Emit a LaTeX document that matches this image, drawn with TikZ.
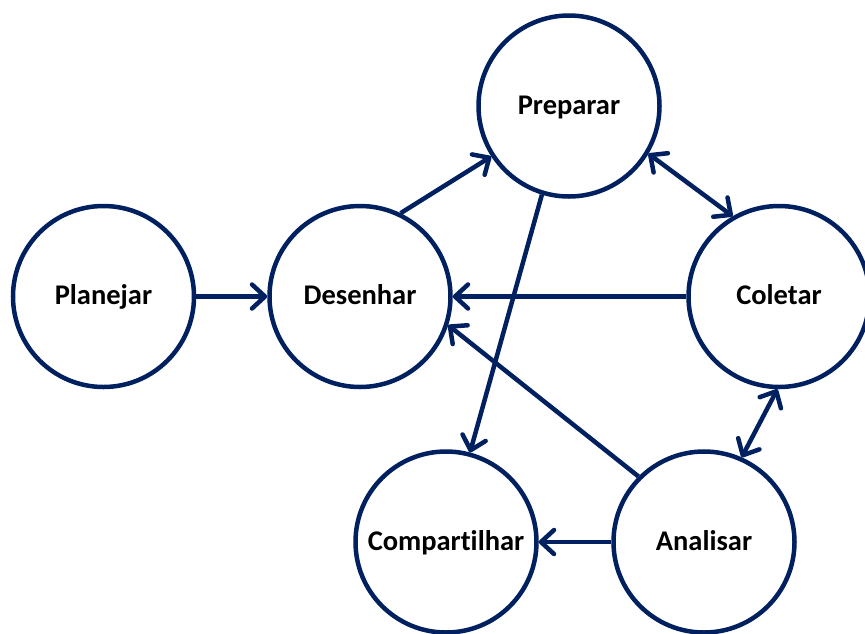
\documentclass[tikz,border=0pt]{standalone}
\usepackage{fontspec}
\setmainfont{Carlito}[Ligatures={NoCommon}]
\usetikzlibrary{arrows.meta}
\definecolor{navy}{RGB}{0,32,96}
\tikzset{
  stage/.style={circle, draw=navy, line width=4.5pt, minimum size=181pt, inner sep=0pt,
    fill=white, font=\bfseries\fontsize{28.5}{31}\selectfont, text height=22pt, text depth=6pt},
  barb/.tip={Straight Barb[length=13pt,width=24pt,line cap=round,line join=round]},
  flow/.style={draw=navy, line width=4.5pt, -barb},
  both/.style={draw=navy, line width=4.5pt, barb-barb}
}
\begin{document}
\begin{tikzpicture}[x=1pt,y=-1pt]
\useasboundingbox (0,0) rectangle (865,633);
\clip (0,0) rectangle (865,633);
\node[stage] (plan) at (103.5,296.5) {Planejar};
\node[stage] (des) at (360,296.5) {Desenhar};
\node[stage] (prep) at (569,106) {Preparar};
\node[stage] (col) at (779,296.5) {Coletar};
\node[stage] (comp) at (446,542) {Compartilhar};
\node[stage] (ana) at (704,542) {Analisar};
\draw[flow] (plan) -- (des);
\draw[flow] (des.64) -- (prep.213);
\draw[both] (prep.329) -- (col.120);
\draw[flow] (prep.253.5) -- (comp.75.5);
\draw[flow] (col) -- (des);
\draw[flow] (ana.135) -- (des.-18);
\draw[both] (col.269) -- (ana.66.5);
\draw[flow] (ana) -- (comp);
\end{tikzpicture}
\end{document}
